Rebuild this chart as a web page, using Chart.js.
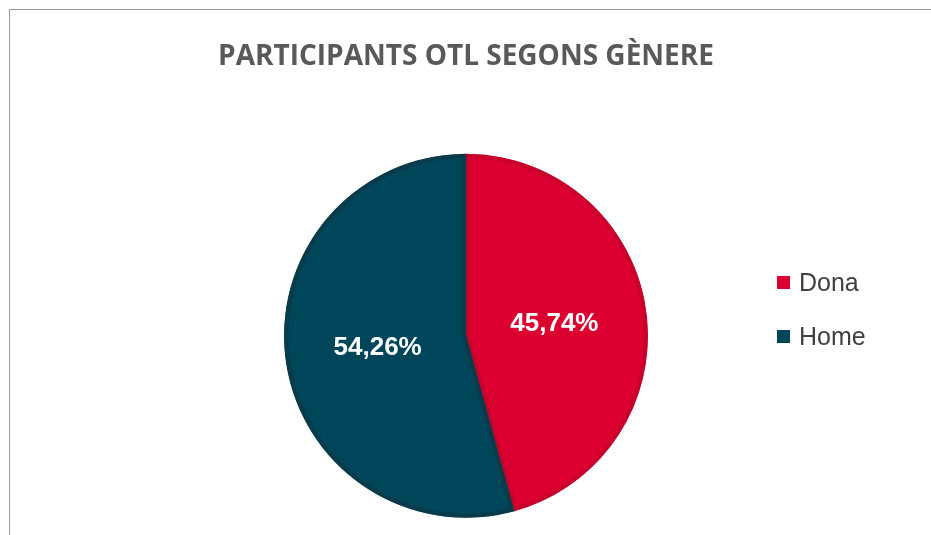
<!DOCTYPE html>
<html>
<head>
<meta charset="utf-8">
<script src="https://cdn.jsdelivr.net/npm/chart.js@4.4.1/dist/chart.umd.min.js"></script>
<style>
  body { margin: 0; background: #fff; }
  #frame { position: absolute; left: 9px; top: 9px; width: 1000px; height: 1000px; border: 1px solid #9a9a9a; }
  #chart1 { position: absolute; left: 0; top: 0; }
</style>
</head>
<body>
<div id="frame"></div>
<canvas id="chart1" width="931" height="535"></canvas>
<script>
var titleText = 'PARTICIPANTS OTL SEGONS GÈNERE';
var labels = ['Dona', 'Home'];
var values = [45.74, 54.26];
var fillColors = ['#dc0030', '#00465a'];
var edgeColors = ['#c9002c', '#0a3b4a'];

// percent labels inside the slices
var sliceLabels = {
    id: 'sliceLabels',
    afterDatasetsDraw: function(chart) {
        var ctx = chart.ctx;
        var meta = chart.getDatasetMeta(0);
        ctx.save();
        ctx.font = 'bold 26px "Liberation Sans", Arial, sans-serif';
        ctx.fillStyle = '#ffffff';
        ctx.textAlign = 'center';
        ctx.textBaseline = 'middle';
        meta.data.forEach(function(arc, i) {
            var p = arc.getProps(['x', 'y', 'startAngle', 'endAngle', 'outerRadius'], true);
            var mid = (p.startAngle + p.endAngle) / 2;
            var r = p.outerRadius * 0.49;
            var txt = values[i].toFixed(2).replace('.', ',') + '%';
            ctx.fillText(txt, p.x + Math.cos(mid) * r, p.y + Math.sin(mid) * r);
        });
        ctx.restore();
    }
};

// legend on the right, like the excel one
var sideLegend = {
    id: 'sideLegend',
    afterDraw: function(chart) {
        var ctx = chart.ctx;
        var ys = [283, 337];
        ctx.save();
        ctx.font = '25px "Liberation Sans", Arial, sans-serif';
        ctx.textBaseline = 'middle';
        labels.forEach(function(lab, i) {
            ctx.fillStyle = fillColors[i];
            ctx.fillRect(777, ys[i] - 7, 13, 13);
            ctx.fillStyle = '#404040';
            ctx.fillText(lab, 799, ys[i] + 1);
        });
        ctx.restore();
    }
};

var ctx1 = document.getElementById('chart1').getContext('2d');
var chart1 = new Chart(ctx1, {
    type: 'pie',
    data: {
        labels: labels,
        datasets: [{
            data: values,
            backgroundColor: fillColors,
            borderColor: edgeColors,
            borderWidth: 4,
            borderAlign: 'inner'
        }]
    },
    options: {
        responsive: false,
        animation: false,
        radius: 182,
        layout: { padding: { left: 100, right: 99, top: 0, bottom: 17 } },
        plugins: {
            legend: { display: false },
            tooltip: { enabled: false },
            title: {
                display: true,
                text: titleText,
                color: '#595959',
                font: { family: '"Open Sans", sans-serif', size: 28, weight: 'bold', lineHeight: 1.2 },
                padding: { top: 40, bottom: 80 }
            }
        }
    },
    plugins: [sliceLabels, sideLegend]
});
</script>
</body>
</html>
